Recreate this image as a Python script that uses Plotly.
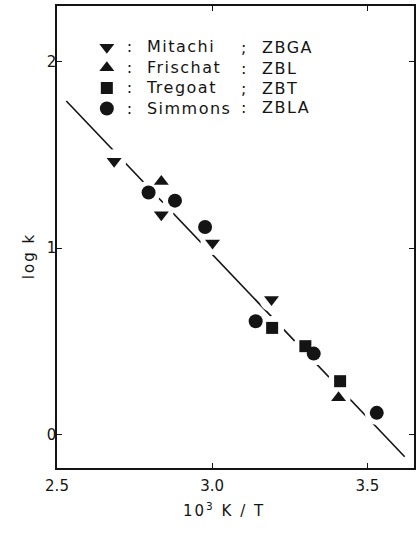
import plotly.graph_objects as go
import numpy as np

# Rate constants vs. reciprocal temperature for four fluoride-glass studies
mitachi_x = [2.684, 2.836, 3.001, 3.191]
mitachi_y = [1.466, 1.180, 1.028, 0.724]

frischat_x = [2.836, 3.407]
frischat_y = [1.358, 0.197]

tregoat_x = [3.193, 3.300, 3.412]
tregoat_y = [0.572, 0.474, 0.286]

simmons_x = [2.795, 2.880, 2.977, 3.140, 3.327, 3.530]
simmons_y = [1.299, 1.255, 1.114, 0.608, 0.434, 0.116]

# Common Arrhenius fit: log k = intercept + slope * (10^3 K / T)
fit_slope = -1.752
fit_intercept = 6.223
fit_span = [2.53, 3.62]

series_names = ["Mitachi", "Frischat", "Tregoat", "Simmons"]
glass_codes = ["ZBGA", "ZBL", "ZBT", "ZBLA"]
code_seps = [";", ":", ";", ":"]

x_ticks = [2.5, 3.0, 3.5]
x_ticktext = ["2.5", "3.0", "3.5"]
y_ticks = [0, 1, 2]
y_ticktext = ["0", "1", "2"]

FONT = "DejaVu Sans, Arial, sans-serif"
INK = "#141414"

# plot-area geometry in pixels (used to place paper-referenced text)
L, T, W, H = 57, 6, 359, 462


def px_x(px):
    return (px - L) / W


def px_y(py):
    return 1 - (py - T) / H


def spaced(text, px=1.5, size=None):
    style = f"letter-spacing:{px}px"
    if size:
        style += f";font-size:{size}px"
    return f'<span style="{style}">{text}</span>'


fig = go.Figure()

fx = np.array(fit_span)
fig.add_trace(go.Scatter(
    x=fx, y=fit_intercept + fit_slope * fx, mode="lines",
    line=dict(color=INK, width=1.6), showlegend=False, hoverinfo="skip"))

# White halo so the fit line breaks around each data point
all_x = mitachi_x + frischat_x + tregoat_x + simmons_x
all_y = mitachi_y + frischat_y + tregoat_y + simmons_y
fig.add_trace(go.Scatter(
    x=all_x, y=all_y, mode="markers",
    marker=dict(symbol="circle", size=24, color="white"),
    showlegend=False, hoverinfo="skip"))

sets = [
    (mitachi_x, mitachi_y, "triangle-down", 13),
    (frischat_x, frischat_y, "triangle-up", 13),
    (tregoat_x, tregoat_y, "square", 12),
    (simmons_x, simmons_y, "circle", 14),
]
for (xs, ys, sym, sz), name in zip(sets, series_names):
    fig.add_trace(go.Scatter(
        x=xs, y=ys, mode="markers",
        name=spaced(":\u00a0\u00a0" + name, 1.5, 16),
        marker=dict(symbol=sym, size=sz, color=INK, line=dict(width=0))))

annotations = []
row_y = [47, 68, 88, 108]
for sep, code, ry in zip(code_seps, glass_codes, row_y):
    annotations.append(dict(x=px_x(240), y=px_y(ry), xref="paper", yref="paper",
                            text=sep, showarrow=False, xanchor="left", yanchor="middle",
                            font=dict(family=FONT, size=16, color=INK)))
    annotations.append(dict(x=px_x(261), y=px_y(ry), xref="paper", yref="paper",
                            text=spaced(code), showarrow=False, xanchor="left",
                            yanchor="middle", font=dict(family=FONT, size=16, color=INK)))

# axis titles
annotations.append(dict(x=px_x(225), y=px_y(510), xref="paper", yref="paper",
                        text=spaced("10<sup>3</sup> K / T", 2), showarrow=False,
                        xanchor="center", yanchor="middle",
                        font=dict(family=FONT, size=15, color=INK)))
annotations.append(dict(x=px_x(29), y=px_y(256), xref="paper", yref="paper",
                        text=spaced("log k", 2), showarrow=False, textangle=-90,
                        xanchor="center", yanchor="middle",
                        font=dict(family=FONT, size=15, color=INK)))

axis_common = dict(showline=True, linecolor=INK, linewidth=1.6, mirror="ticks",
                   ticks="inside", ticklen=5, tickwidth=1.2, tickcolor=INK,
                   showgrid=False, zeroline=False,
                   tickfont=dict(family=FONT, size=15, color=INK))

fig.update_layout(
    width=419, height=545,
    margin=dict(l=L, r=419 - L - W, t=T, b=545 - T - H),
    paper_bgcolor="white", plot_bgcolor="white",
    showlegend=True,
    legend=dict(x=px_x(87), y=px_y(32), xanchor="left", yanchor="top",
                bgcolor="rgba(0,0,0,0)", font=dict(family=FONT, size=13.4, color=INK),
                itemwidth=30, tracegroupgap=0),
    xaxis=dict(range=[2.5, 3.65], tickvals=x_ticks, ticktext=x_ticktext,
               ticklabelstandoff=3, **axis_common),
    yaxis=dict(range=[-0.18, 2.30], tickvals=y_ticks, ticktext=y_ticktext,
               ticklabelstandoff=-4, **axis_common),
    annotations=annotations,
)

fig.write_html("out.html")
